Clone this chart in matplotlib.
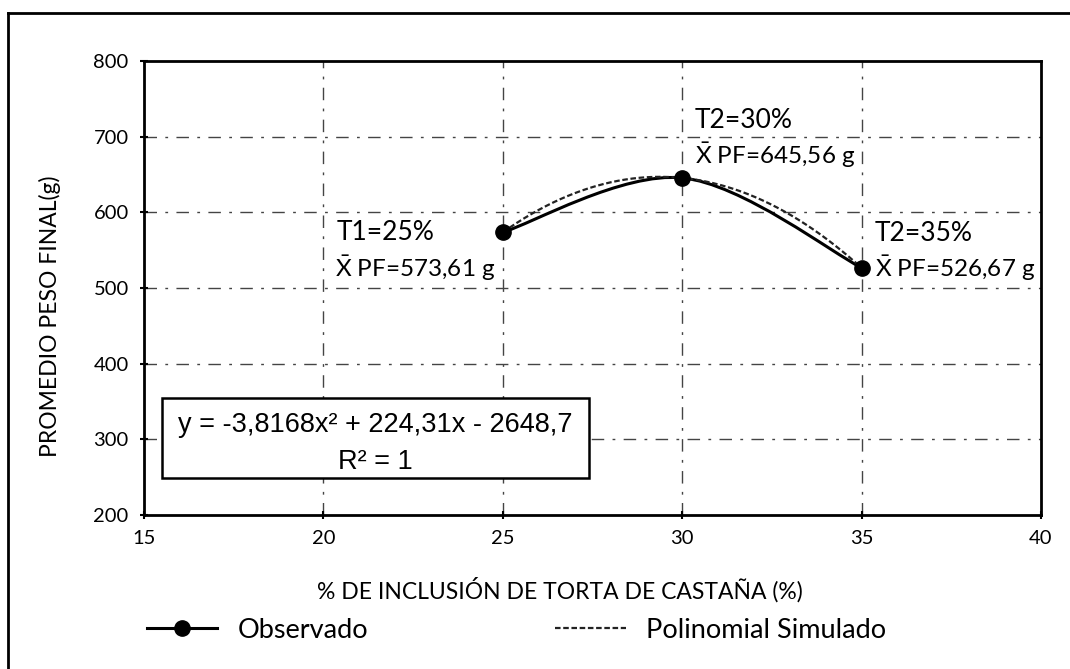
import numpy as np
import matplotlib.pyplot as plt
from matplotlib.path import Path
from matplotlib.patches import PathPatch, Rectangle
from matplotlib.lines import Line2D

plt.rcParams['font.family'] = ['Lato', 'DejaVu Sans']
plt.rcParams['mathtext.fontset'] = 'custom'
plt.rcParams['mathtext.rm'] = 'Lato'

# data
inclusion = [25, 30, 35]
peso_final = [573.61, 645.56, 526.67]
tratamientos = ['T1=25%', 'T2=30%', 'T2=35%']
etiquetas_pf = ['573,61', '645,56', '526,67']
coefs = [-3.8168, 224.31, -2648.7]

W, H = 1070, 669
fig = plt.figure(figsize=(10.7, 6.69), dpi=100)
ax = fig.add_axes([144/W, 1-515/H, 897/W, 454/H])

ax.set_xlim(15, 40)
ax.set_ylim(200, 800)
ax.set_xticks([15, 20, 25, 30, 35, 40])
ax.set_yticks([200, 300, 400, 500, 600, 700, 800])
ax.tick_params(labelsize=14.5, length=6, width=1.5, direction='inout', pad=8)
for s in ax.spines.values():
    s.set_linewidth(2)

# broken grid lines
for yv in [300, 400, 500, 600, 700]:
    ax.axhline(yv, color='#444444', lw=1, ls=(0, (9, 6, 2, 6)), zorder=0)
for xv in [20, 25, 30, 35]:
    ax.axvline(xv, color='#444444', lw=1, ls=(0, (9, 6, 2, 6)), zorder=0)

# smoothed observed line (Bezier through the points)
x = np.array(inclusion, float)
y = np.array(peso_final, float)
px = np.concatenate([[x[0]], x, [x[-1]]])
py = np.concatenate([[y[0]], y, [y[-1]]])
verts = [(x[0], y[0])]
codes = [Path.MOVETO]
for i in range(len(x) - 1):
    c1 = (px[i+1] + (px[i+2] - px[i]) / 6, py[i+1] + (py[i+2] - py[i]) / 6)
    c2 = (px[i+2] - (px[i+3] - px[i+1]) / 6, py[i+2] - (py[i+3] - py[i+1]) / 6)
    verts += [c1, c2, (x[i+1], y[i+1])]
    codes += [Path.CURVE4] * 3
ax.add_patch(PathPatch(Path(verts, codes), fill=False, lw=2.2, color='black', zorder=3))
ax.plot(inclusion, peso_final, 'o', color='black', ms=11, zorder=4)

# polynomial trendline
xs = np.linspace(inclusion[0], inclusion[-1], 200)
ax.plot(xs, np.polyval(coefs, xs), color='#222222', lw=1.6, ls=(0, (2.5, 1.2)), zorder=3)

# annotations
t_pos = [(20.38, 572.7), (30.36, 722.0), (35.37, 571.4)]
pf_pos = [(20.32, 526.4), (30.36, 675.8), (35.37, 526.4)]
for t, (tx, ty) in zip(tratamientos, t_pos):
    ax.text(tx, ty, t, fontsize=19, va='center', ha='left')
for lab, (tx, ty) in zip(etiquetas_pf, pf_pos):
    ax.text(tx, ty, r'$\bar{\mathrm{X}}$ PF=' + lab + ' g', fontsize=17.5, va='center', ha='left')

# equation box
fig.add_artist(Rectangle((162/W, 1-478/H), 427/W, 80/H, transform=fig.transFigure,
                         fc='white', ec='black', lw=1.8, zorder=5))
fig.text(375/W, 1-425/H, 'y = -3,8168x\u00b2 + 224,31x - 2648,7', family='Liberation Sans',
         fontsize=19.5, ha='center', va='center', zorder=6)
fig.text(375/W, 1-462/H, 'R\u00b2 = 1', family='Liberation Sans',
         fontsize=19.5, ha='center', va='center', zorder=6)

fig.text(50/W, 1-316/H, 'PROMEDIO PESO FINAL(g)', fontsize=16.5, rotation=90,
         ha='center', va='center')
fig.text(560/W, 1-590/H, '% DE INCLUSIÓN DE TORTA DE CASTAÑA (%)', fontsize=16.5,
         ha='center', va='center')

handles = [Line2D([], [], color='black', lw=2.2, marker='o', ms=11),
           Line2D([], [], color='#222222', lw=1.6, ls=(0, (2.5, 1.2)))]
fig.legend(handles, ['Observado', 'Polinomial Simulado'], loc='center left',
           bbox_to_anchor=(147/W, 1-630/H), ncol=2, frameon=False, fontsize=19.5,
           handlelength=2.6, columnspacing=6.9, handletextpad=0.75,
           borderpad=0, borderaxespad=0)

# outer frame
fig.add_artist(Line2D([8/W, 1], [1-13/H, 1-13/H], color='black', lw=2, transform=fig.transFigure))
fig.add_artist(Line2D([8/W, 8/W], [0, 1-13/H], color='black', lw=2, transform=fig.transFigure))

fig.savefig('out.png', dpi=100)
